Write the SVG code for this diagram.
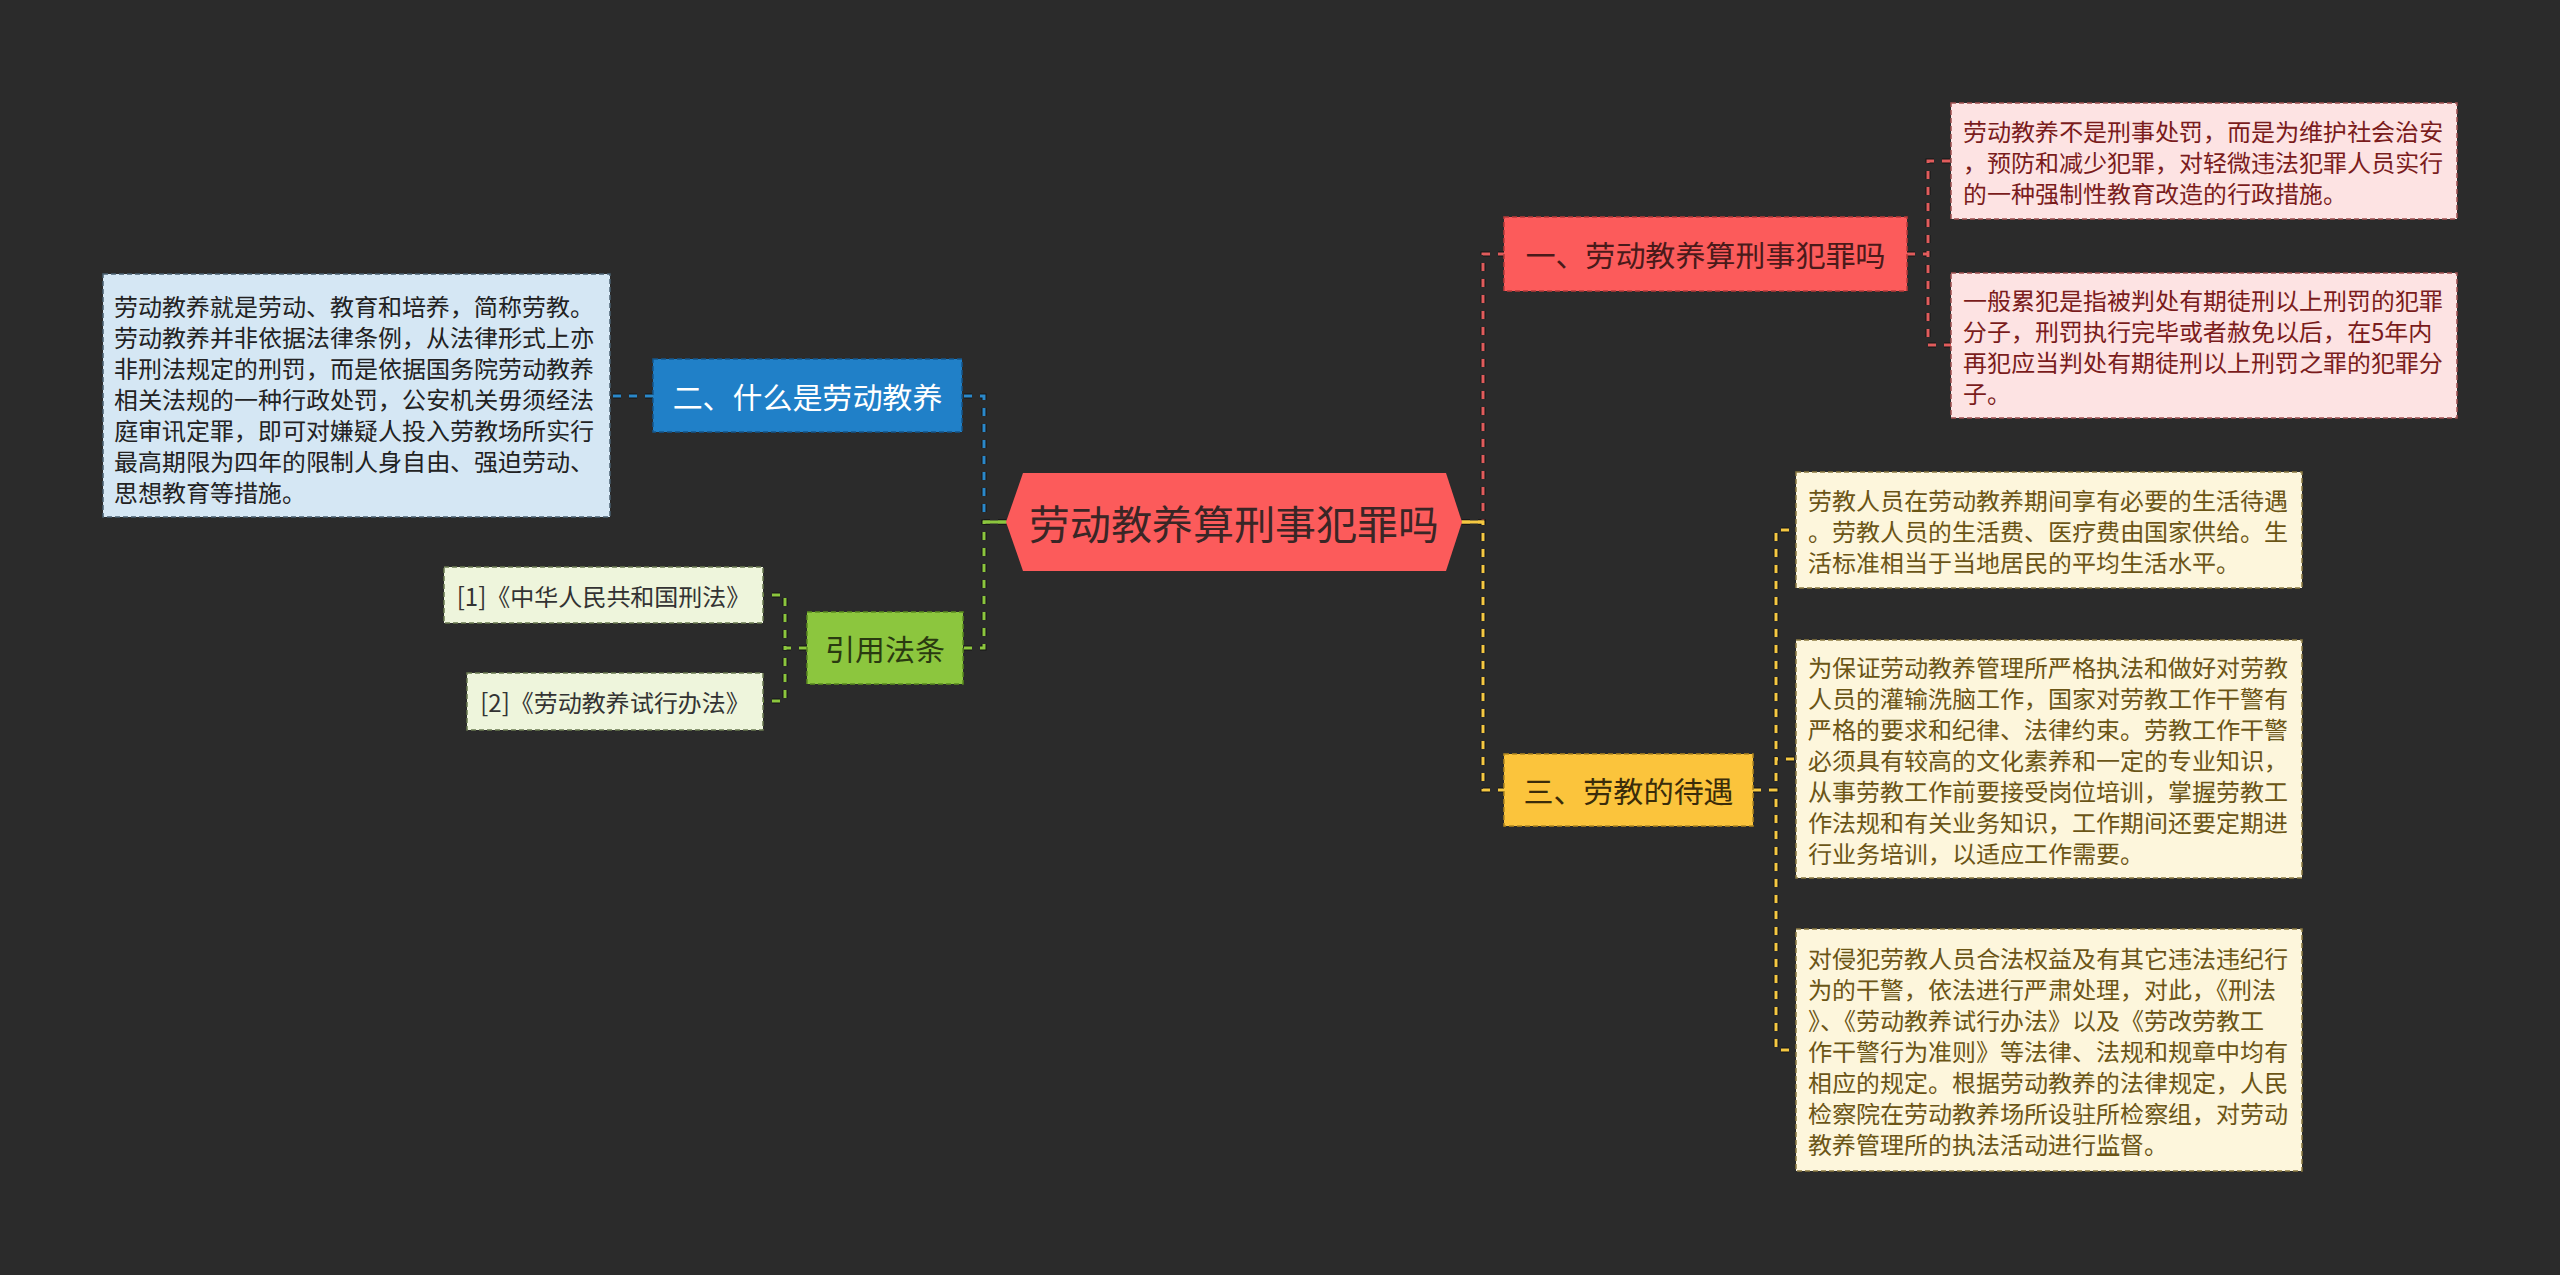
<svg xmlns="http://www.w3.org/2000/svg" width="2560" height="1275" viewBox="0 0 2560 1275">
<style>
text{font-family:"Noto Sans SC","Noto Sans CJK SC","Noto Sans CJK JP",sans-serif;}
.c{dominant-baseline:central;}
.mid{text-anchor:middle;}
.big{font-size:41px;fill:#3a2626;}
.t1{font-size:30px;}
.leaf{font-size:24px;}
.bd{stroke-dasharray:5 3;stroke-width:1.5;}
.ln{fill:none;stroke-width:3;stroke-dasharray:8 8;}
.lo{fill:none;stroke:#141414;stroke-width:5;stroke-dasharray:8 8;}
</style>
<rect x="0" y="0" width="2560" height="1275" fill="#2b2b2b"/>
<g id="connectors">
  <path class="lo" d="M1462 522 H1483 V254 H1504"/>
  <path class="ln" stroke="#e05c5c" d="M1462 522 H1483 V254 H1504"/>
  <path class="lo" d="M1462 522 H1483 V790 H1504"/>
  <path class="ln" stroke="#f5c842" d="M1462 522 H1483 V790 H1504"/>
  <path class="lo" d="M1006 522 H984 V396 H962"/>
  <path class="ln" stroke="#2b88c9" d="M1006 522 H984 V396 H962"/>
  <path class="lo" d="M1006 522 H984 V648 H963"/>
  <path class="ln" stroke="#8cc63e" d="M1006 522 H984 V648 H963"/>
  <path fill="none" stroke="#f5c842" stroke-width="3" d="M1460 522 H1484"/>
  <path fill="none" stroke="#8cc63e" stroke-width="3" d="M1008 522 H983"/>
  <path class="lo" d="M1907 254 H1928 V161 H1951 M1907 254 H1928 V345 H1951"/>
  <path class="ln" stroke="#e05c5c" d="M1907 254 H1928 V161 H1951 M1907 254 H1928 V345 H1951"/>
  <path class="lo" d="M1753 790 H1776 V530 H1796 M1753 790 H1776 V759 H1796 M1753 790 H1776 V1050 H1796"/>
  <path class="ln" stroke="#f5c842" d="M1753 790 H1776 V530 H1796 M1753 790 H1776 V759 H1796 M1753 790 H1776 V1050 H1796"/>
  <path class="lo" d="M653 396 H610"/>
  <path class="ln" stroke="#2b88c9" d="M653 396 H610"/>
  <path class="lo" d="M807 648 H785 V595 H763 M807 648 H785 V701 H763"/>
  <path class="ln" stroke="#8cc63e" d="M807 648 H785 V595 H763 M807 648 H785 V701 H763"/>
</g>
<g id="root">
  <polygon points="1006,522 1023,473 1446,473 1462,522 1446,571 1023,571" fill="#fc5b5b"/>
  <text class="c mid big" x="1234" y="522">劳动教养算刑事犯罪吗</text>
</g>
<g id="n1">
  <rect x="1504" y="217" width="403" height="74" fill="#fc5b5b" stroke="#b83a3a" class="bd"/>
  <text class="c mid t1" x="1705.5" y="254" fill="#4a1a1a">一、劳动教养算刑事犯罪吗</text>
</g>
<g id="n1a">
  <rect x="1951" y="103" width="506" height="116" fill="#fde3e3" stroke="#a05050" class="bd"/>
  <text class="c leaf" x="1963" fill="#7a1c1c"><tspan x="1963" y="130">劳动教养不是刑事处罚，而是为维护社会治安</tspan><tspan x="1963" y="161">，预防和减少犯罪，对轻微违法犯罪人员实行</tspan><tspan x="1963" y="192">的一种强制性教育改造的行政措施。</tspan></text>
</g>
<g id="n1b">
  <rect x="1951" y="273" width="506" height="145" fill="#fde3e3" stroke="#a05050" class="bd"/>
  <text class="c leaf" x="1963" fill="#7a1c1c"><tspan x="1963" y="299">一般累犯是指被判处有期徒刑以上刑罚的犯罪</tspan><tspan x="1963" y="330">分子，刑罚执行完毕或者赦免以后，在5年内</tspan><tspan x="1963" y="361">再犯应当判处有期徒刑以上刑罚之罪的犯罪分</tspan><tspan x="1963" y="392">子。</tspan></text>
</g>
<g id="n3">
  <rect x="1504" y="754" width="249" height="72" fill="#fbc43c" stroke="#b08620" class="bd"/>
  <text class="c mid t1" x="1628.5" y="790" fill="#3a2c0a">三、劳教的待遇</text>
</g>
<g id="n3a">
  <rect x="1796" y="472" width="506" height="116" fill="#fdf6dc" stroke="#8a7a40" class="bd"/>
  <text class="c leaf" fill="#6b5516"><tspan x="1808" y="499">劳教人员在劳动教养期间享有必要的生活待遇</tspan><tspan x="1808" y="530">。劳教人员的生活费、医疗费由国家供给。生</tspan><tspan x="1808" y="561">活标准相当于当地居民的平均生活水平。</tspan></text>
</g>
<g id="n3b">
  <rect x="1796" y="640" width="506" height="238" fill="#fdf6dc" stroke="#8a7a40" class="bd"/>
  <text class="c leaf" fill="#6b5516"><tspan x="1808" y="666">为保证劳动教养管理所严格执法和做好对劳教</tspan><tspan x="1808" y="697">人员的灌输洗脑工作，国家对劳教工作干警有</tspan><tspan x="1808" y="728">严格的要求和纪律、法律约束。劳教工作干警</tspan><tspan x="1808" y="759">必须具有较高的文化素养和一定的专业知识，</tspan><tspan x="1808" y="790">从事劳教工作前要接受岗位培训，掌握劳教工</tspan><tspan x="1808" y="821">作法规和有关业务知识，工作期间还要定期进</tspan><tspan x="1808" y="852">行业务培训，以适应工作需要。</tspan></text>
</g>
<g id="n3c">
  <rect x="1796" y="929" width="506" height="242" fill="#fdf6dc" stroke="#8a7a40" class="bd"/>
  <text class="c leaf" fill="#6b5516"><tspan x="1808" y="957">对侵犯劳教人员合法权益及有其它违法违纪行</tspan><tspan x="1808" y="988">为的干警，依法进行严肃处理，对此，《刑法</tspan><tspan x="1808" y="1019">》、《劳动教养试行办法》以及《劳改劳教工</tspan><tspan x="1808" y="1050">作干警行为准则》等法律、法规和规章中均有</tspan><tspan x="1808" y="1081">相应的规定。根据劳动教养的法律规定，人民</tspan><tspan x="1808" y="1112">检察院在劳动教养场所设驻所检察组，对劳动</tspan><tspan x="1808" y="1143">教养管理所的执法活动进行监督。</tspan></text>
</g>
<g id="n2">
  <rect x="653" y="359" width="309" height="73" fill="#2080c8" stroke="#14558a" class="bd"/>
  <text class="c mid t1" x="807.5" y="396" fill="#ffffff">二、什么是劳动教养</text>
</g>
<g id="n2a">
  <rect x="103" y="274" width="507" height="243" fill="#d5e7f4" stroke="#4a6070" class="bd"/>
  <text class="c leaf" fill="#222222"><tspan x="114" y="305">劳动教养就是劳动、教育和培养，简称劳教。</tspan><tspan x="114" y="336">劳动教养并非依据法律条例，从法律形式上亦</tspan><tspan x="114" y="367">非刑法规定的刑罚，而是依据国务院劳动教养</tspan><tspan x="114" y="398">相关法规的一种行政处罚，公安机关毋须经法</tspan><tspan x="114" y="429">庭审讯定罪，即可对嫌疑人投入劳教场所实行</tspan><tspan x="114" y="460">最高期限为四年的限制人身自由、强迫劳动、</tspan><tspan x="114" y="491">思想教育等措施。</tspan></text>
</g>
<g id="n4">
  <rect x="807" y="612" width="156" height="72" fill="#8cc63e" stroke="#5a8a20" class="bd"/>
  <text class="c mid t1" x="885" y="648" fill="#2a3a10">引用法条</text>
</g>
<g id="n4a">
  <rect x="444" y="567" width="319" height="56" fill="#eef5dc" stroke="#6a7a50" class="bd"/>
  <text class="c mid leaf" x="603.5" y="595" fill="#333333">[1]《中华人民共和国刑法》</text>
</g>
<g id="n4b">
  <rect x="467" y="673" width="296" height="57" fill="#eef5dc" stroke="#6a7a50" class="bd"/>
  <text class="c mid leaf" x="615" y="701.5" fill="#333333">[2]《劳动教养试行办法》</text>
</g>
</svg>
